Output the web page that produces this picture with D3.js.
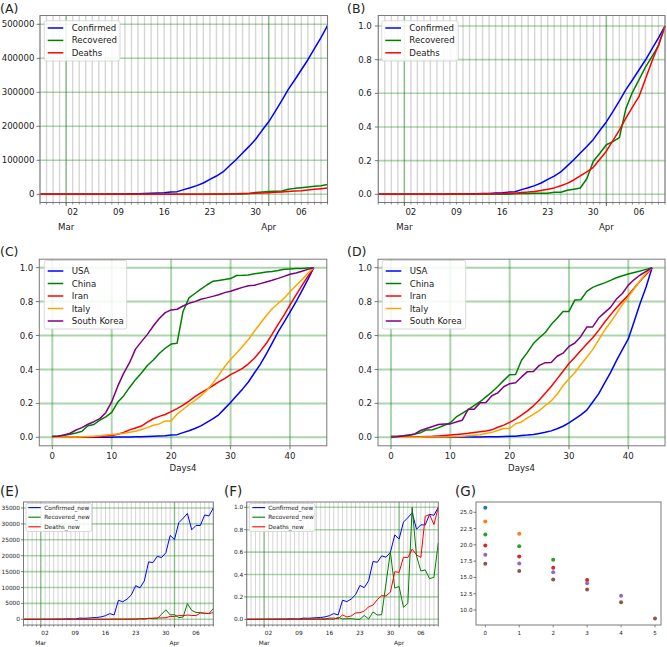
<!DOCTYPE html>
<html><head><meta charset="utf-8">
<script src="https://cdn.jsdelivr.net/npm/d3@7"></script>
<style>body{margin:0;background:#fff}svg{display:block}text{font-family:"DejaVu Sans",sans-serif;fill:#222}</style>
</head><body><svg id="c" width="667" height="647"></svg>
<script>
// ---------- DATA ----------
const startDay = "2020-02-26";
const usConfirmed = [57,58,60,68,74,98,118,149,217,262,402,518,583,959,1281,1663,2179,2726,3499,4632,6421,7783,13747,19273,25600,33276,43847,53740,65778,83836,101657,121478,140886,161807,188172,213242,243622,275367,308650,336802,366317,395817,428617,461117,496117];
const usRecovered = [6,6,6,7,7,7,7,7,7,7,7,7,7,8,8,12,12,12,12,17,17,105,121,147,176,178,178,348,361,681,869,1072,2665,5644,7024,8474,9001,9707,14652,17448,19581,21763,23559,25410,28790];
const usDeaths = [0,0,0,1,1,6,7,11,12,14,17,21,22,28,36,40,47,54,63,85,108,118,200,244,307,427,552,706,942,1209,1581,2026,2467,2978,3873,4757,5926,7087,8407,9619,10783,12722,14695,16478,18586];
const usConfirmedNew = [6,1,2,8,6,24,20,31,68,45,140,116,65,376,322,382,516,547,773,1133,1789,1362,5964,5526,6327,7676,10571,9893,12038,18058,17821,19821,19408,20921,26365,25070,30380,31745,33283,28152,29515,29500,32800,32500,35000];
const usRecoveredNew = [0,0,0,1,0,0,0,0,0,0,0,0,0,1,0,4,0,0,0,5,0,88,16,26,29,2,0,170,13,320,188,203,1593,2979,1380,1450,527,706,4945,2796,2133,2182,1796,1851,3380];
const usDeathsNew = [0,0,0,1,0,5,1,4,1,2,3,4,1,6,8,4,7,7,9,22,23,10,82,44,63,120,125,154,236,267,372,445,441,511,895,884,1169,1161,1320,1212,1164,1939,1973,1783,2108];

const countries = ["USA","China","Iran","Italy","South Korea"];
const days4 = d3.range(45);
const confChina = [0.0068,0.008,0.0114,0.0174,0.0257,0.0357,0.0683,0.0754,0.101,0.121,0.147,0.206,0.244,0.294,0.340,0.379,0.423,0.456,0.494,0.525,0.550,0.555,0.742,0.822,0.848,0.874,0.898,0.920,0.925,0.930,0.936,0.954,0.955,0.957,0.964,0.969,0.974,0.978,0.983,0.991,0.993,0.995,0.996,0.998,1.0];
const confIran = [0,0.0001,0.0003,0.0005,0.0008,0.0011,0.0018,0.0026,0.0046,0.0073,0.0111,0.0184,0.0282,0.0439,0.0549,0.0661,0.0893,0.1095,0.1235,0.1346,0.1512,0.1692,0.1894,0.2137,0.2393,0.2621,0.2819,0.304,0.3264,0.3461,0.3694,0.3875,0.4069,0.4334,0.4665,0.508,0.5529,0.6079,0.6658,0.7203,0.7802,0.8387,0.8949,0.9489,1.0];
const confItaly = [0.0002,0.0005,0.0012,0.0018,0.0025,0.0035,0.0051,0.0069,0.0087,0.0131,0.0158,0.0194,0.024,0.0299,0.036,0.0456,0.0572,0.0711,0.0787,0.0966,0.0966,0.137,0.164,0.192,0.217,0.244,0.277,0.318,0.365,0.416,0.459,0.496,0.536,0.577,0.625,0.671,0.717,0.758,0.789,0.820,0.858,0.894,0.929,0.967,1.0];
const confKorea = [0.004,0.006,0.014,0.024,0.043,0.057,0.077,0.092,0.11,0.145,0.21,0.30,0.377,0.44,0.52,0.564,0.607,0.656,0.70,0.735,0.751,0.755,0.774,0.79,0.80,0.814,0.822,0.831,0.841,0.853,0.861,0.873,0.884,0.894,0.896,0.906,0.916,0.926,0.937,0.949,0.961,0.969,0.979,0.99,1.0];
const deathChina = [0.0056,0.006,0.0086,0.0139,0.0186,0.0272,0.0435,0.0441,0.0568,0.0707,0.086,0.1198,0.1411,0.1626,0.1865,0.2098,0.238,0.2668,0.30,0.3355,0.3687,0.3704,0.454,0.5005,0.5526,0.5871,0.6183,0.6645,0.7016,0.742,0.742,0.8102,0.8108,0.8603,0.8838,0.8984,0.9107,0.9253,0.9409,0.9525,0.9625,0.972,0.98,0.99,1.0];
const deathIran = [0.0006,0.0006,0.0012,0.0015,0.0024,0.0036,0.0049,0.0058,0.0079,0.0103,0.0131,0.0164,0.02,0.0234,0.0279,0.0325,0.0376,0.044,0.0589,0.072,0.0883,0.1075,0.1302,0.156,0.1855,0.2198,0.259,0.2999,0.3446,0.3898,0.435,0.4724,0.5115,0.5501,0.5871,0.6305,0.6782,0.7219,0.7641,0.8015,0.837,0.8798,0.9217,0.9593,1.0];
const deathItaly = [0.0001,0.0001,0.0002,0.0004,0.0006,0.0008,0.0011,0.0013,0.0018,0.0021,0.0033,0.005,0.0067,0.0093,0.0124,0.0147,0.023,0.0291,0.0397,0.0521,0.0521,0.0797,0.0907,0.1139,0.1358,0.1576,0.1874,0.2143,0.2538,0.3037,0.3447,0.3825,0.4293,0.4723,0.5171,0.5749,0.6309,0.6785,0.7296,0.7823,0.828,0.8759,0.9241,0.9669,1.0];
const deathKorea = [0.0,0.003,0.008,0.012,0.02,0.04,0.052,0.064,0.075,0.078,0.079,0.09,0.10,0.165,0.166,0.203,0.205,0.245,0.262,0.298,0.316,0.322,0.356,0.387,0.388,0.424,0.44,0.441,0.478,0.496,0.536,0.556,0.595,0.65,0.651,0.703,0.735,0.766,0.815,0.848,0.897,0.93,0.957,0.978,1.0];

const gX = [0,1,2,3,4,5];
const gSeries = [
  [25.7],
  [23.6,21.7],
  [21.6,19.8,17.7],
  [19.9,18.2,16.5,14.6],
  [18.5,17.15,15.8,14.1,12.2],
  [17.1,16.0,14.7,13.15,11.2,8.7]
];
const aTicks = [0,100000,200000,300000,400000,500000];
const normTicks = [0,0.2,0.4,0.6,0.8,1.0];
const eTicks = [0,5000,10000,15000,20000,25000,30000,35000];
const dayTicks = [0,10,20,30,40];
const gYTicks = [10,12.5,15,17.5,20,22.5,25];

// ---------- DRAW ----------
const svg = d3.select("#c");
const t0 = d3.timeParse("%Y-%m-%d")(startDay);
const dates = usConfirmed.map((_, i) => d3.timeDay.offset(t0, i));
const norm = a => { const m = d3.max(a); return a.map(v => v / m); };
const GREEN_GRID = "rgba(0,128,0,0.33)";
const MINOR_GRID = "#d6d6d6";
const FRAME = "#7a7a7a";

function title(x, y, s, fs) {
  svg.append("text").attr("x", x).attr("y", y).attr("font-size", fs).text(s);
}

function legend(p) {
  const g = svg.append("g");
  g.append("rect").attr("x", p.x).attr("y", p.y).attr("width", p.w).attr("height", p.h)
    .attr("rx", 2).attr("fill", "rgba(255,255,255,0.85)").attr("stroke", "#cfcfcf").attr("stroke-width", 0.8);
  p.items.forEach((it, i) => {
    const yy = p.row0 + i * p.dy;
    g.append("line").attr("x1", p.l0).attr("x2", p.l1).attr("y1", yy).attr("y2", yy)
      .attr("stroke", it.color).attr("stroke-width", p.lw);
    g.append("text").attr("x", p.tx).attr("y", yy + p.fs * 0.35).attr("font-size", p.fs).text(it.name);
  });
}

function yAxis(y, ticks, fmt, L, R, fs, grid) {
  const g = svg.append("g");
  if (grid) g.selectAll("line.hg").data(ticks).join("line")
    .attr("x1", L).attr("x2", R).attr("y1", d => y(d)).attr("y2", d => y(d))
    .attr("stroke", GREEN_GRID).attr("stroke-width", 1.6);
  return g;
}
function yLabels(y, ticks, fmt, L, fs, tl, gap) {
  const g = svg.append("g");
  g.selectAll("line").data(ticks).join("line").attr("x1", L - tl).attr("x2", L)
    .attr("y1", d => y(d)).attr("y2", d => y(d)).attr("stroke", "#444").attr("stroke-width", 0.7);
  g.selectAll("text").data(ticks).join("text").attr("x", L - gap).attr("y", d => y(d) + fs * 0.36)
    .attr("text-anchor", "end").attr("font-size", fs).text(fmt);
}
function frame(L, R, T, B) {
  svg.append("rect").attr("x", L).attr("y", T).attr("width", R - L).attr("height", B - T)
    .attr("fill", "none").attr("stroke", FRAME).attr("stroke-width", 1);
}
function lines(x, y, xs, series, lw) {
  const line = d3.line().x((d, i) => x(xs[i])).y(d => y(d));
  series.forEach(s => svg.append("path").datum(s.values).attr("d", line)
    .attr("fill", "none").attr("stroke", s.color).attr("stroke-width", lw).attr("stroke-linejoin", "round"));
}

function datePanel(p) {
  const x = d3.scaleTime().domain([dates[0], dates[dates.length - 1]]).range([p.L, p.R]);
  const y = d3.scaleLinear().domain(p.yDom).range(p.yRng);
  const end = d3.timeDay.offset(dates[dates.length - 1], 1);
  const days = d3.timeDay.range(dates[0], end);
  const months = d3.timeMonth.range(dates[0], end);
  const mondays = d3.timeMonday.range(dates[0], end);
  const g = svg.append("g");
  g.selectAll("line.mg").data(days).join("line").attr("x1", d => x(d)).attr("x2", d => x(d))
    .attr("y1", p.T).attr("y2", p.B).attr("stroke", MINOR_GRID).attr("stroke-width", p.mgw);
  yAxis(y, p.yTicks, p.yFmt, p.L, p.R, p.fs, true);
  g.selectAll("line.Mg").data(months).join("line").attr("x1", d => x(d)).attr("x2", d => x(d))
    .attr("y1", p.T).attr("y2", p.B).attr("stroke", GREEN_GRID).attr("stroke-width", 1.6);
  lines(x, y, dates, p.series, p.lw);
  frame(p.L, p.R, p.T, p.B);
  // x ticks
  const ax = svg.append("g");
  ax.selectAll("line.mt").data(days).join("line").attr("x1", d => x(d)).attr("x2", d => x(d))
    .attr("y1", p.B).attr("y2", p.B + p.mtl).attr("stroke", "#444").attr("stroke-width", 0.6);
  ax.selectAll("line.Mt").data(months).join("line").attr("x1", d => x(d)).attr("x2", d => x(d))
    .attr("y1", p.B).attr("y2", p.B + p.Mtl).attr("stroke", "#444").attr("stroke-width", 0.7);
  ax.selectAll("text.d").data(mondays).join("text").attr("x", d => x(d)).attr("y", p.dayY)
    .attr("text-anchor", "middle").attr("font-size", p.fs).text(d3.timeFormat("%d"));
  ax.selectAll("text.m").data(months).join("text").attr("x", d => x(d)).attr("y", p.monY)
    .attr("text-anchor", "middle").attr("font-size", p.fs).text(d3.timeFormat("%b"));
  yLabels(y, p.yTicks, p.yFmt, p.L, p.fs, p.ytl, p.ygap);
  legend(Object.assign({}, p.leg, { items: p.series }));
}

function dayPanel(p) {
  const x = d3.scaleLinear().domain([0, 40]).range(p.xRng);
  const y = d3.scaleLinear().domain([0, 1]).range([437.3, 267.7]);
  const g = svg.append("g");
  g.selectAll("line.vg").data(dayTicks).join("line").attr("x1", d => x(d)).attr("x2", d => x(d))
    .attr("y1", p.T).attr("y2", p.B).attr("stroke", GREEN_GRID).attr("stroke-width", 2);
  g.selectAll("line.hg").data(normTicks).join("line").attr("x1", p.L).attr("x2", p.R)
    .attr("y1", d => y(d)).attr("y2", d => y(d)).attr("stroke", GREEN_GRID).attr("stroke-width", 2);
  lines(x, y, days4, p.series, 1.5);
  frame(p.L, p.R, p.T, p.B);
  const ax = svg.append("g");
  ax.selectAll("line").data(dayTicks).join("line").attr("x1", d => x(d)).attr("x2", d => x(d))
    .attr("y1", p.B).attr("y2", p.B + 3.5).attr("stroke", "#444").attr("stroke-width", 0.7);
  ax.selectAll("text").data(dayTicks).join("text").attr("x", d => x(d)).attr("y", 459)
    .attr("text-anchor", "middle").attr("font-size", 8.6).text(d => d);
  svg.append("text").attr("x", (p.L + p.R) / 2).attr("y", 470.5).attr("text-anchor", "middle")
    .attr("font-size", 8.6).text("Days4");
  yLabels(y, normTicks, d3.format(".1f"), p.L, 8.6, 3.5, 6);
  legend(Object.assign({}, p.leg, { items: p.series }));
}

const C3 = ["blue", "green", "red"];
const C5 = ["blue", "green", "red", "orange", "purple"];

// (A)
title(0, 13, "(A)", 12.5);
datePanel({
  L: 40, R: 327.5, T: 15.5, B: 202.5, yDom: [0, 500000], yRng: [194.3, 24.3],
  yTicks: aTicks, yFmt: d3.format("d"), fs: 8.6, lw: 1.5, mgw: 1.4, mtl: 2, Mtl: 3.5, ytl: 3.5, ygap: 5.5,
  dayY: 215, monY: 230,
  series: [{ name: "Confirmed", values: usConfirmed, color: C3[0] },
           { name: "Recovered", values: usRecovered, color: C3[1] },
           { name: "Deaths", values: usDeaths, color: C3[2] }],
  leg: { x: 44.3, y: 20.7, w: 75.7, h: 40.3, row0: 28, dy: 12.4, l0: 47.7, l1: 63.3, tx: 71.7, fs: 8.6, lw: 1.5 }
});
// (B)
title(347, 13, "(B)", 12.5);
datePanel({
  L: 378.3, R: 665, T: 15.5, B: 202.5, yDom: [0, 1], yRng: [194.3, 26],
  yTicks: normTicks, yFmt: d3.format(".1f"), fs: 8.6, lw: 1.5, mgw: 1.4, mtl: 2, Mtl: 3.5, ytl: 3.5, ygap: 6.5,
  dayY: 215, monY: 230,
  series: [{ name: "Confirmed", values: norm(usConfirmed), color: C3[0] },
           { name: "Recovered", values: norm(usRecovered), color: C3[1] },
           { name: "Deaths", values: norm(usDeaths), color: C3[2] }],
  leg: { x: 381.7, y: 20.7, w: 76.6, h: 40.3, row0: 28, dy: 12.4, l0: 385.3, l1: 401, tx: 409.3, fs: 8.6, lw: 1.5 }
});
// (C)
title(0, 256, "(C)", 12.5);
dayPanel({
  L: 39.3, R: 326.8, T: 259.2, B: 445.8, xRng: [52.3, 290],
  series: [norm(usConfirmed), confChina, confIran, confItaly, confKorea]
    .map((v, i) => ({ name: countries[i], values: v, color: C5[i] })),
  leg: { x: 44.3, y: 260.5, w: 82.4, h: 68.5, row0: 271, dy: 12.5, l0: 47.7, l1: 63.3, tx: 71.7, fs: 8.6, lw: 1.5 }
});
// (D)
title(347, 256, "(D)", 12.5);
dayPanel({
  L: 378, R: 665, T: 259.2, B: 445.8, xRng: [391, 628.3],
  series: [norm(usDeaths), deathChina, deathIran, deathItaly, deathKorea]
    .map((v, i) => ({ name: countries[i], values: v, color: C5[i] })),
  leg: { x: 382.3, y: 260.5, w: 83.4, h: 68.5, row0: 271, dy: 12.5, l0: 385.7, l1: 401.3, tx: 409.7, fs: 8.6, lw: 1.5 }
});
// (E)
title(0, 496, "(E)", 13.5);
datePanel({
  L: 23.5, R: 213.3, T: 502, B: 625, yDom: [0, 35000], yRng: [619.3, 508],
  yTicks: eTicks, yFmt: d3.format("d"), fs: 5.8, lw: 1, mgw: 1, mtl: 1.5, Mtl: 2.5, ytl: 2.5, ygap: 3.5,
  dayY: 634.8, monY: 644.8,
  series: [{ name: "Confirmed_new", values: usConfirmedNew, color: C3[0] },
           { name: "Recovered_new", values: usRecoveredNew, color: C3[1] },
           { name: "Deaths_new", values: usDeathsNew, color: C3[2] }],
  leg: { x: 26, y: 503.5, w: 65.7, h: 28, row0: 507.6, dy: 9.6, l0: 28.3, l1: 40.7, tx: 44.3, fs: 5.8, lw: 1.1 }
});
// (F)
title(224, 496, "(F)", 13.5);
datePanel({
  L: 246.7, R: 438.3, T: 502, B: 625, yDom: [0, 1], yRng: [619.3, 507.3],
  yTicks: normTicks, yFmt: d3.format(".1f"), fs: 5.8, lw: 1, mgw: 1, mtl: 1.5, Mtl: 2.5, ytl: 2.5, ygap: 3.5,
  dayY: 634.8, monY: 644.8,
  series: [{ name: "Confirmed_new", values: norm(usConfirmedNew), color: C3[0] },
           { name: "Recovered_new", values: norm(usRecoveredNew), color: C3[1] },
           { name: "Deaths_new", values: norm(usDeathsNew), color: C3[2] }],
  leg: { x: 249.3, y: 503.5, w: 65.7, h: 28, row0: 507.6, dy: 9.6, l0: 252.3, l1: 265.2, tx: 268.3, fs: 5.8, lw: 1.1 }
});
// (G)
title(455, 496, "(G)", 13.5);
(function () {
  const L = 476, R = 661, T = 502, B = 625;
  const x = d3.scaleLinear().domain([0, 5]).range([485.3, 655]);
  const y = d3.scaleLinear().domain([10, 25]).range([610, 512.3]);
  const tab10 = d3.schemeCategory10;
  gSeries.forEach((s, k) => {
    svg.append("g").selectAll("circle").data(s).join("circle")
      .attr("cx", (d, i) => x(gX[i])).attr("cy", d => y(d)).attr("r", 2).attr("fill", tab10[k]);
  });
  frame(L, R, T, B);
  const ax = svg.append("g");
  ax.selectAll("line").data(gX).join("line").attr("x1", d => x(d)).attr("x2", d => x(d))
    .attr("y1", B).attr("y2", B + 2.5).attr("stroke", "#444").attr("stroke-width", 0.6);
  ax.selectAll("text").data(gX).join("text").attr("x", d => x(d)).attr("y", 634.6)
    .attr("text-anchor", "middle").attr("font-size", 5.6).text(d => d);
  yLabels(y, gYTicks, d3.format(".1f"), L, 5.6, 2.5, 3.5);
})();
</script></body></html>
